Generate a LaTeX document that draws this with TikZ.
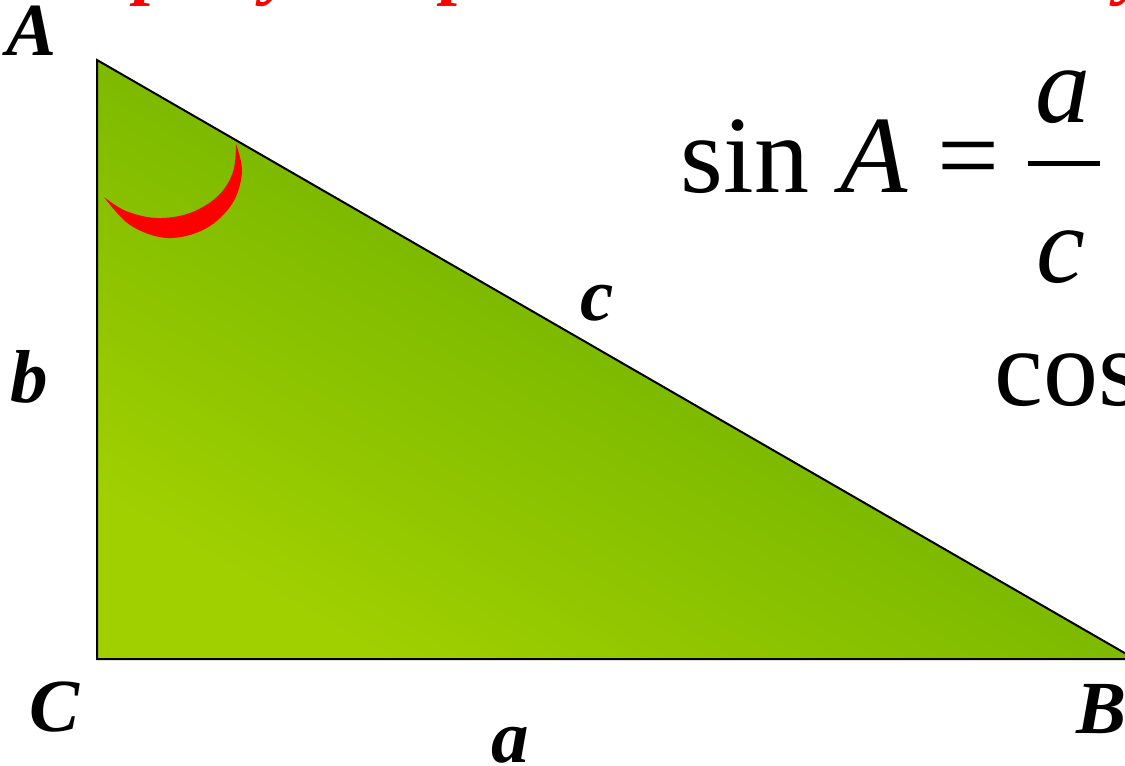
\documentclass[tikz,border=0pt]{standalone}
\usepackage{fontspec}
\setmainfont{Liberation Serif}
\definecolor{gLight}{HTML}{A0D000}
\definecolor{gDark}{HTML}{5AA400}
\begin{document}
\begin{tikzpicture}[x=0.5pt,y=-0.5pt,
  lab/.style={font=\fontsize{37.5}{40}\selectfont\bfseries\itshape, inner sep=0pt, anchor=base},
  ttl/.style={lab, text=red, anchor=base west},
  eq/.style={font=\fontsize{55}{60}\selectfont, inner sep=0pt, anchor=base},
  eqi/.style={eq, font=\fontsize{55}{60}\selectfont\itshape}]
\useasboundingbox (0,0) rectangle (1125,766);
% title fragments (cut off at the top)
\node[ttl] (t1) at (135,-10) {p};
\node[ttl] (t2) at (263,-10) {y};
\node[ttl] (t3) at (442,-10) {p};
\node[ttl] (t4) at (1117,-10) {y};
% triangle
\coordinate (A) at (97,60);
\coordinate (C) at (97,659);
\coordinate (B) at (1135,659);
\shade[top color=gDark, bottom color=gLight, shading angle=-30] (A) -- (B) -- (C) -- cycle;
\draw[line width=1pt, line join=miter] (A) -- (B) -- (C) -- cycle;
% angle mark
\fill[red] plot[smooth, tension=0.6] coordinates {(104,197) (130,225) (167,238) (205,229) (232,204) (242,172) (236,144)}
  -- plot[smooth, tension=0.6] coordinates {(236,144) (233,172) (218,196) (190,213) (157,218) (126,211) (104,197)} -- cycle;
% labels
\node[lab] (lA) at (32,55) {A};
\node[lab] (lb) at (29,402) {b};
\node[lab] (lC) at (55,731) {C};
\node[lab] (la) at (510,762) {a};
\node[lab] (lc) at (597,320) {c};
\node[lab] (lB) at (1102,733) {B};
% formula
\node[eq] (sin) at (745,192) {sin};
\node[eqi] (sA) at (874,192) {A};
\node[eq] (eqs) at (969,192) {=};
\node[eqi] (fa) at (1063,122) {a};
\node[eqi] (fc) at (1061,282) {c};
\draw[line width=2.5pt] (1028,163) -- (1100,163);
\node[eq, anchor=base west] (cos) at (994,405) {cos};
\end{tikzpicture}
\end{document}
